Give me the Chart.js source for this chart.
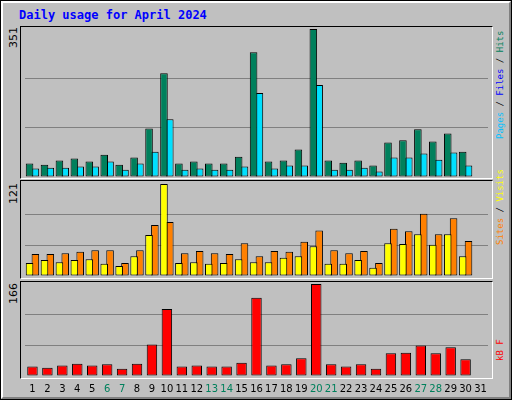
<!DOCTYPE html>
<html><head><meta charset="utf-8">
<script src="https://cdn.jsdelivr.net/npm/chart.js@4"></script>
<style>
body{margin:0;background:#fff}
#wrap{position:absolute;left:0;top:0;width:510px;height:398px;background:#c0c0c0;border:1px solid #000;}
#wrap:before{content:"";position:absolute;left:0;top:0;right:0;bottom:0;border-left:2px solid #fff;border-top:2px solid #fff;border-right:2px solid #808080;border-bottom:2px solid #808080}
.panel{position:absolute;left:19px;width:471px;border-top:1px solid #000;border-left:1px solid #000;border-right:1px solid #fff;border-bottom:1px solid #fff}
canvas{position:absolute}
.t{position:absolute;font-family:"DejaVu Sans Mono",monospace;font-size:9px;white-space:pre;transform-origin:0 0;transform:rotate(-90deg)}
.m{position:absolute;font-family:"DejaVu Sans",sans-serif;font-size:11px;white-space:nowrap;transform-origin:0 0;transform:rotate(-90deg)}
</style></head><body>
<div id="wrap">
<div style="position:absolute;left:18px;top:7px;font-family:'DejaVu Sans Mono',monospace;font-weight:bold;font-size:12px;color:#0000ff">Daily usage for April 2024</div>
<div class="panel" style="top:25px;height:151px"></div>
<div class="panel" style="top:179px;height:97px"></div>
<div class="panel" style="top:280px;height:96px"></div>
<div class="m" style="left:6px;top:47px">351</div>
<div class="m" style="left:6px;top:203px">121</div>
<div class="m" style="left:6px;top:303px">166</div>
<div class="t" style="left:494px;top:138px"><span style="color:#00c0ff">Pages</span><span style="color:#000"> / </span><span style="color:#0000ff">Files</span><span style="color:#000"> / </span><span style="color:#00805c">Hits</span></div>
<div class="t" style="left:494px;top:244px"><span style="color:#ff8000">Sites</span><span style="color:#000"> / </span><span style="color:#ffff00">Visits</span></div>
<div class="t" style="left:494px;top:360px"><span style="color:#ff0000">kB F</span></div>
</div>
<canvas id="c1" style="left:20px;top:26px;width:471px;height:151px"></canvas>
<canvas id="c2" style="left:20px;top:180px;width:471px;height:97px"></canvas>
<canvas id="c3" style="left:20px;top:281px;width:471px;height:119px"></canvas>
<script>
const days=[...Array(31)].map((_,i)=>String(i+1));
const weekend=[6,7,13,14,20,21,27,28];
const hits=[32,29,39,44,37,53,29,46,115,246,32,37,32,32,48,296,37,39,65,351,39,34,39,27,82,87,113,84,103,60,0];
const files=[20,22,22,25,25,37,17,32,60,137,17,20,17,17,25,199,20,27,27,218,17,17,22,13,46,46,56,41,58,27,0];
const visits=[17,21,18,21,22,16,13,26,54,121,17,18,16,17,22,18,18,24,26,39,16,16,21,11,43,42,55,41,55,26,0];
const sites=[29,29,30,32,34,34,17,34,67,71,30,33,30,29,43,26,33,32,45,60,34,30,33,17,62,59,82,55,76,46,0];
const kbytes=[17,15,19,22,19,21,13,22,57,121,17,19,17,17,24,141,19,21,32,166,21,17,21,13,41,42,55,41,52,30,0];

function mk(id,datasets,max,padTop,padBottom,labels){
  const plugins=[];
  if(labels){plugins.push({id:'xl',afterDraw(c){const x=c.scales.x,ctx=c.ctx;ctx.save();ctx.font='10px "DejaVu Sans", sans-serif';ctx.textAlign='center';ctx.textBaseline='middle';
    days.forEach((d,i)=>{ctx.fillStyle=weekend.includes(i+1)?'#00805c':'#000';ctx.fillText(d,x.getPixelForValue(i),c.chartArea.bottom+13);});ctx.restore();}});}
  return new Chart(document.getElementById(id),{type:'bar',data:{labels:days,datasets},
    options:{responsive:false,animation:false,devicePixelRatio:1,
      layout:{padding:{left:5,right:3,top:padTop,bottom:padBottom}},
      plugins:{legend:{display:false},tooltip:{enabled:false}},
      scales:{x:{display:false,grid:{display:false}},
        y:{min:0,max:max,ticks:{display:false,stepSize:max/3},border:{display:false},
          grid:{drawTicks:false,color:ctx=>(ctx.tick.value>0&&ctx.tick.value<max)?'#808080':'rgba(0,0,0,0)'}}}},
    plugins});
}
const base={borderColor:'#000',borderWidth:1,categoryPercentage:0.78,barPercentage:1.3,borderSkipped:false};
mk('c1',[{...base,data:hits,backgroundColor:'#00805c'},{...base,data:files,backgroundColor:'#00e0ff'}],351,3,0,false);
mk('c2',[{...base,data:visits,backgroundColor:'#ffff00'},{...base,data:sites,backgroundColor:'#ff8000'}],121,4,1,false);
mk('c3',[{...base,data:kbytes,backgroundColor:'#ff0000',barPercentage:0.7,categoryPercentage:1}],166,3,24,true);
</script></body></html>
